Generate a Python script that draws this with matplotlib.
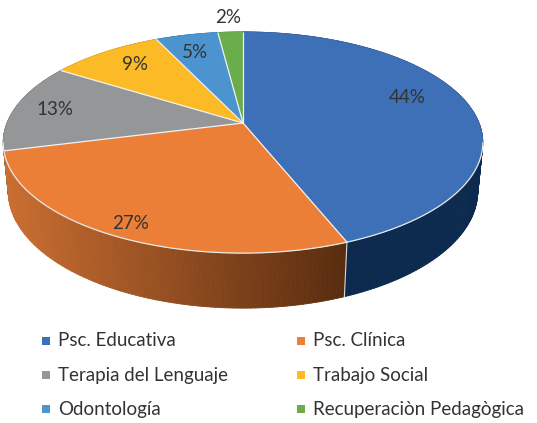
import numpy as np
import matplotlib.pyplot as plt
from matplotlib.patches import Polygon, Rectangle
from matplotlib.collections import PolyCollection
from matplotlib.colors import to_rgb

plt.rcParams['font.family'] = ['Lato', 'DejaVu Sans']

categories = ['Psc. Educativa', 'Psc. Clínica', 'Terapia del Lenguaje',
              'Trabajo Social', 'Odontología', 'Recuperaciòn Pedagògica']
shares = [44, 27, 13, 9, 5, 2]
colors = ['#3e70b7', '#ec7f38', '#959697', '#fbba26', '#4b94d0', '#6aae4c']
# wall colour at the start and end of each slice
wall_colors = [('#0c2a4e', '#0c2a4e'), ('#cb6e31', '#582c0f'),
               ('#5a5a5a', '#5a5a5a'), ('#9a7010', '#9a7010'),
               ('#2a5a85', '#2a5a85'), ('#3f6a2c', '#3f6a2c')]

# camera for the tilted disc (pixel space)
ELEV = np.radians(27)
DIST = 5.05
FOCAL = 1192
THICK = 0.234
CX, CY = 243, 123


def project(phi, r=1.0, z=0.0):
    x = r * np.sin(phi)
    y = r * np.cos(phi)
    v = y * np.sin(ELEV) + z * np.cos(ELEV)
    w = y * np.cos(ELEV) - z * np.sin(ELEV)
    s = FOCAL / (DIST + w)
    return CX + x * s, CY - v * s, w


fig = plt.figure(figsize=(5.37, 4.23), dpi=100)
ax = fig.add_axes([0, 0, 1, 1])
ax.set_xlim(0, 537)
ax.set_ylim(423, 0)
ax.axis('off')

bounds = 2 * np.pi * np.concatenate([[0], np.cumsum(shares)]) / sum(shares)

# side wall, drawn back to front
quads, quad_cols, depths = [], [], []
for i in range(len(shares)):
    phis = np.linspace(bounds[i], bounds[i + 1], max(3, int(shares[i] * 4)))
    c0 = np.array(to_rgb(wall_colors[i][0]))
    c1 = np.array(to_rgb(wall_colors[i][1]))
    # gradient runs across the slice, left to right on screen
    xs_all = project(phis)[0]
    span = max(xs_all.max() - xs_all.min(), 1)
    for p0, p1 in zip(phis[:-1], phis[1:]):
        x0, y0, w0 = project(p0)
        x1, y1, w1 = project(p1)
        x2, y2, _ = project(p1, z=-THICK)
        x3, y3, _ = project(p0, z=-THICK)
        t = ((x0 + x1) / 2 - xs_all.min()) / span
        quads.append([(x0, y0), (x1, y1), (x2, y2), (x3, y3)])
        quad_cols.append(c0 + (c1 - c0) * t)
        depths.append((w0 + w1) / 2)
order = np.argsort(depths)[::-1]
ax.add_collection(PolyCollection([quads[k] for k in order],
                                 facecolors=[quad_cols[k] for k in order],
                                 edgecolors=[quad_cols[k] for k in order],
                                 linewidths=0.6))

# light seams on the visible wall
for b in bounds:
    xa, ya, wa = project(b)
    xb, yb, _ = project(b, z=-THICK)
    if wa < -0.3:
        ax.plot([xa, xb], [ya, yb], color='#d9d9d9', lw=0.8)

# top faces
for i, col in enumerate(colors):
    phis = np.linspace(bounds[i], bounds[i + 1], max(3, int(shares[i] * 6)))
    xs, ys, _ = project(phis)
    pts = [(CX, CY)] + list(zip(xs, ys))
    ax.add_patch(Polygon(pts, closed=True, facecolor=col,
                         edgecolor=col, lw=0.5))

# white separators between slices and highlight on the front rim
for b in bounds[:-1]:
    xe, ye, _ = project(b)
    ax.plot([CX, xe], [CY, ye], color='#f2f2f2', lw=0.9,
            solid_capstyle='butt')
rim = np.linspace(np.pi / 2 + 0.18, 3 * np.pi / 2 - 0.18, 200)
rx, ry, _ = project(rim)
ax.plot(rx, ry, color='#e8e8e8', lw=0.9)

# percentage labels
label_r = [0.724, 0.90, 0.825, 0.76, 0.84, 1.2]
label_dy = [-11, 0, 0, -3, 5, 0]
for i, v in enumerate(shares):
    mid = (bounds[i] + bounds[i + 1]) / 2
    lx, ly, _ = project(mid, r=label_r[i])
    ax.text(lx, ly + label_dy[i], f'{v}%', ha='center', va='center',
            fontsize=13.5, color='#333333')

# legend: two columns, filled row by row
leg_x = [42, 297]
leg_y = [341, 375, 409]
for i, (name, col) in enumerate(zip(categories, colors)):
    lx = leg_x[i % 2]
    ly = leg_y[i // 2]
    ax.add_patch(Rectangle((lx, ly - 4), 8, 8, facecolor=col, edgecolor='none'))
    ax.text(lx + 16, ly, name, ha='left', va='center', fontsize=13.5,
            color='#333333')

fig.savefig('out.png', dpi=100)
